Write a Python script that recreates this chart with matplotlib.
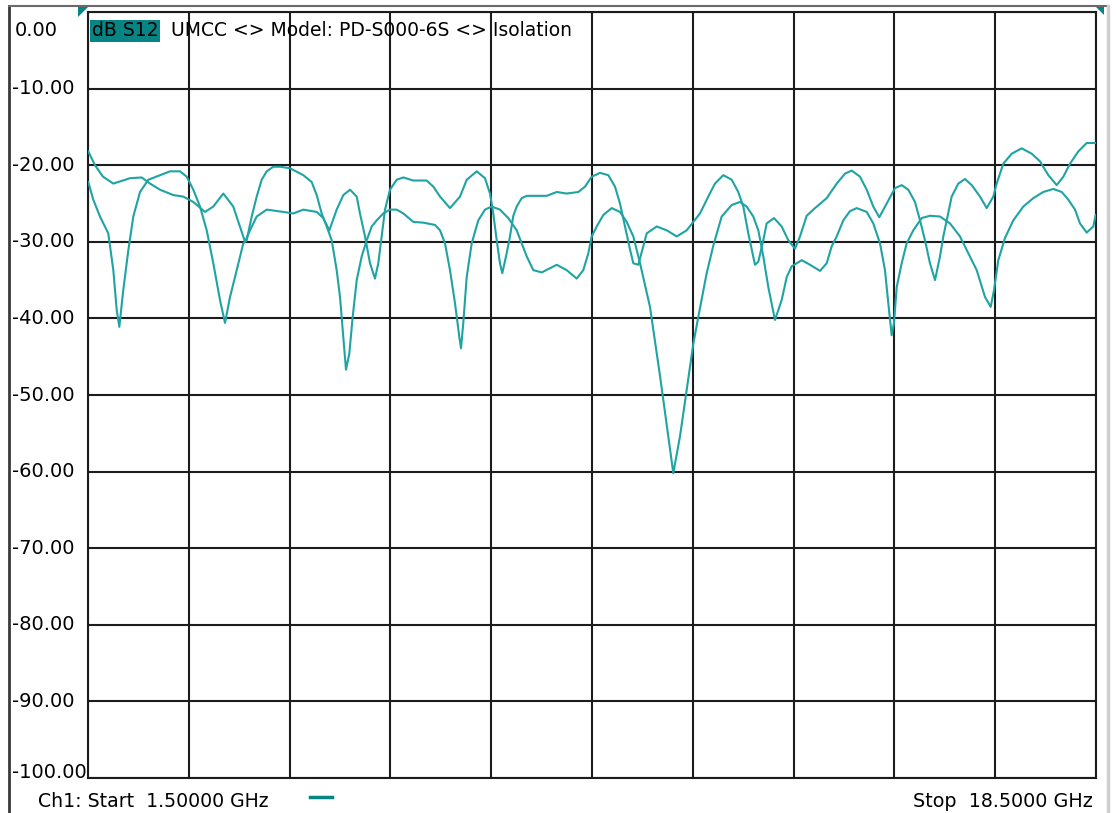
import matplotlib
matplotlib.use("Agg")
import matplotlib.pyplot as plt
from matplotlib.lines import Line2D
from matplotlib.patches import Polygon
from matplotlib.transforms import blended_transform_factory
import numpy as np

# ---------------- data (GHz, dB) ----------------
freq_a = [1.505, 1.618, 1.753, 1.927, 2.208, 2.406, 2.546, 2.714, 2.939, 3.107,
          3.276, 3.473, 3.613, 3.782, 3.950, 4.148, 4.232, 4.345, 4.514, 4.794,
          4.962, 5.131, 5.357, 5.468, 5.570, 5.694, 5.806, 5.919, 6.032, 6.087,
          6.172, 6.256, 6.340, 6.396, 6.453, 6.509, 6.593, 6.706, 6.818, 6.986,
          7.212, 7.324, 7.437, 7.605, 7.774, 7.887, 8.056, 8.195, 8.280, 8.335,
          8.393, 8.448, 8.487, 8.561, 8.617, 8.673, 8.730, 8.814, 8.899, 9.236,
          9.405, 9.573, 9.769, 9.882, 9.995, 10.135, 10.275, 10.388, 10.472, 10.557,
          10.641, 10.697, 10.781, 10.923, 11.091, 11.260, 11.429, 11.597, 11.709, 11.821,
          11.961, 12.074, 12.214, 12.356, 12.467, 12.552, 12.636, 12.720, 12.749, 12.805,
          12.889, 12.946, 13.070, 13.199, 13.311, 13.424, 13.508, 13.621, 13.761, 13.958,
          14.127, 14.267, 14.380, 14.520, 14.633, 14.744, 14.845, 14.970, 15.110, 15.223,
          15.334, 15.447, 15.532, 15.616, 15.700, 15.785, 15.869, 15.925, 15.982, 16.066,
          16.178, 16.291, 16.404, 16.544, 16.657, 16.768, 16.825, 16.937, 17.078, 17.247,
          17.416, 17.556, 17.696, 17.837, 17.949, 18.062, 18.202, 18.343, 18.483]
db_a = [-18.2, -20.0, -21.5, -22.4, -21.7, -21.6, -22.4, -23.2, -23.9, -24.1,
        -24.8, -26.1, -25.4, -23.7, -25.4, -30.0, -28.5, -26.7, -25.8, -26.1,
        -26.3, -25.8, -26.1, -26.9, -28.5, -25.8, -23.9, -23.2, -24.1, -26.3,
        -29.3, -32.8, -34.8, -32.8, -29.3, -25.8, -23.2, -21.9, -21.6, -22.0,
        -22.0, -22.8, -24.1, -25.6, -24.1, -21.9, -20.8, -21.7, -23.7, -26.3,
        -29.8, -32.8, -34.1, -31.5, -29.3, -26.6, -25.4, -24.3, -24.0, -24.0,
        -23.5, -23.7, -23.5, -22.8, -21.5, -21.0, -21.3, -22.8, -25.0, -28.0,
        -31.0, -32.8, -33.0, -28.9, -28.0, -28.5, -29.3, -28.5, -27.4, -26.3,
        -24.1, -22.4, -21.3, -21.9, -23.5, -25.4, -28.9, -31.9, -33.0, -32.6,
        -29.8, -27.6, -26.9, -28.0, -29.8, -30.9, -29.3, -26.6, -25.6, -24.3,
        -22.4, -21.1, -20.7, -21.5, -23.2, -25.4, -26.8, -25.0, -23.0, -22.6,
        -23.2, -24.8, -27.2, -29.8, -32.8, -35.0, -31.9, -29.3, -27.2, -24.1,
        -22.4, -21.8, -22.6, -24.1, -25.6, -24.1, -22.4, -19.8, -18.5, -17.8,
        -18.5, -19.5, -21.3, -22.6, -21.5, -19.8, -18.2, -17.1, -17.1]

freq_b = [1.505, 1.589, 1.702, 1.842, 1.927, 1.984, 2.028, 2.095, 2.180, 2.264,
          2.377, 2.517, 2.714, 2.883, 3.052, 3.165, 3.276, 3.389, 3.502, 3.613,
          3.726, 3.811, 3.895, 4.008, 4.119, 4.176, 4.261, 4.345, 4.429, 4.514,
          4.625, 4.738, 4.907, 5.131, 5.273, 5.357, 5.441, 5.526, 5.610, 5.694,
          5.750, 5.806, 5.851, 5.907, 5.964, 6.032, 6.116, 6.200, 6.285, 6.369,
          6.480, 6.593, 6.706, 6.818, 6.986, 7.155, 7.352, 7.437, 7.521, 7.605,
          7.689, 7.762, 7.791, 7.829, 7.887, 7.971, 8.082, 8.195, 8.308, 8.448,
          8.588, 8.730, 8.899, 9.010, 9.152, 9.405, 9.573, 9.742, 9.853, 9.938,
          9.995, 10.079, 10.191, 10.332, 10.472, 10.585, 10.697, 10.810, 10.978, 11.147,
          11.287, 11.371, 11.484, 11.597, 11.709, 11.793, 11.934, 12.046, 12.187, 12.356,
          12.496, 12.609, 12.720, 12.805, 12.889, 12.973, 13.086, 13.199, 13.284, 13.368,
          13.537, 13.677, 13.845, 13.958, 14.042, 14.127, 14.238, 14.351, 14.464, 14.633,
          14.744, 14.857, 14.941, 14.997, 15.054, 15.093, 15.139, 15.223, 15.307, 15.419,
          15.560, 15.700, 15.869, 16.038, 16.206, 16.346, 16.488, 16.628, 16.724, 16.780,
          16.852, 16.965, 17.105, 17.274, 17.443, 17.611, 17.780, 17.922, 18.033, 18.146,
          18.230, 18.343, 18.454, 18.495]
db_b = [-22.2, -24.5, -26.7, -28.9, -33.7, -38.9, -41.1, -36.3, -31.1, -26.7,
        -23.5, -21.9, -21.3, -20.8, -20.8, -21.5, -23.2, -25.4, -28.5, -32.8,
        -37.6, -40.6, -37.2, -33.7, -30.2, -29.8, -26.7, -24.1, -21.9, -20.8,
        -20.2, -20.2, -20.4, -21.3, -22.2, -23.9, -26.3, -28.0, -29.8, -33.7,
        -37.2, -42.4, -46.7, -44.6, -39.8, -35.0, -31.9, -29.8, -28.0, -27.2,
        -26.3, -25.8, -25.8, -26.3, -27.4, -27.5, -27.8, -28.5, -30.2, -33.7,
        -38.0, -42.4, -43.9, -40.6, -34.6, -30.2, -27.2, -25.8, -25.4, -25.8,
        -26.9, -28.5, -31.9, -33.7, -34.0, -33.0, -33.7, -34.8, -33.7, -31.5,
        -29.3, -28.0, -26.5, -25.6, -26.1, -27.4, -29.3, -32.8, -38.5, -47.5,
        -55.4, -60.2, -55.4, -49.3, -43.3, -39.8, -34.1, -30.5, -26.7, -25.2,
        -24.8, -25.4, -26.7, -28.5, -31.9, -35.9, -40.2, -37.6, -34.6, -33.2,
        -32.4, -33.0, -33.8, -32.8, -30.6, -29.3, -27.2, -26.0, -25.6, -26.1,
        -27.6, -30.2, -33.7, -38.0, -42.2, -40.6, -35.9, -32.8, -30.2, -28.5,
        -26.9, -26.6, -26.7, -27.6, -29.3, -31.5, -33.7, -37.2, -38.5, -36.3,
        -32.4, -29.5, -27.2, -25.4, -24.3, -23.5, -23.1, -23.5, -24.5, -25.8,
        -27.6, -28.8, -28.0, -26.5]

y_ticks = [0, -10, -20, -30, -40, -50, -60, -70, -80, -90, -100]
start_ghz = 1.5
stop_ghz = 18.5
header_tag = "dB S12"
header_title = "UMCC <> Model: PD-S000-6S <> Isolation"
start_label = "Ch1: Start  1.50000 GHz"
stop_label = "Stop  18.5000 GHz"

# ---------------- style ----------------
W, H = 1117, 813
trace_color = "#1fa3a3"
tag_color = "#078585"
grid_color = "#1c1c1c"
FONT = "DejaVu Sans"

fig = plt.figure(figsize=(W / 100, H / 100), dpi=100)
fig.patch.set_facecolor("white")

L, R, T, B = 88, 1096, 12, 778
ax = fig.add_axes([L / W, 1 - B / H, (R - L) / W, (B - T) / H])
ax.set_xlim(start_ghz, stop_ghz)
ax.set_ylim(-100, 0)
ax.set_xticks(np.linspace(start_ghz, stop_ghz, 11))
ax.set_yticks(y_ticks)
ax.tick_params(length=0, labelbottom=False, labelleft=False)
ax.grid(True, color=grid_color, lw=1.5)
for s in ax.spines.values():
    s.set_color(grid_color)
    s.set_linewidth(1.5)

ax.plot(freq_a, db_a, color=trace_color, lw=1.5, zorder=3)
ax.plot(freq_b, db_b, color=trace_color, lw=1.5, zorder=3)

# y labels at left margin
tr = blended_transform_factory(ax.transAxes, ax.transData)
xlab = (12 - L) / (R - L)
for v in y_ticks:
    txt = f"{v:.2f}"
    if v == 0:
        yy, xx = v - 2.4, xlab + 0.003
    elif v == -100:
        yy, xx = v + 0.7, xlab
    else:
        yy, xx = v, xlab
    ax.text(xx, yy, txt, transform=tr, ha="left", va="center",
            fontsize=14, family=FONT, color="black", clip_on=False)

# header
fig.text(92 / W, 1 - 31 / H, header_tag, ha="left", va="center", fontsize=13.5,
         family=FONT, color="black",
         bbox=dict(boxstyle="square,pad=0.1", fc=tag_color, ec="none"))
fig.text(171 / W, 1 - 31 / H, header_title, ha="left", va="center", fontsize=13.5,
         family=FONT, color="black")

# footer
fig.text(38 / W, 1 - 801 / H, start_label, ha="left", va="center", fontsize=13.6,
         family=FONT, color="black")
fig.add_artist(Line2D([310 / W, 332 / W], [1 - 797 / H, 1 - 797 / H],
                      color=tag_color, lw=2.5, transform=fig.transFigure))
fig.text(1093 / W, 1 - 801 / H, stop_label, ha="right", va="center", fontsize=13.8,
         family=FONT, color="black")

# reference-level markers
fig.add_artist(Polygon([[78 / W, 1 - 7 / H], [88 / W, 1 - 7 / H], [78 / W, 1 - 17 / H]],
                       closed=True, fc=tag_color, ec="none", transform=fig.transFigure))
fig.add_artist(Polygon([[1096 / W, 1 - 7 / H], [1104 / W, 1 - 7 / H], [1104 / W, 1 - 15 / H]],
                       closed=True, fc=tag_color, ec="none", transform=fig.transFigure))

# outer window frame
fig.add_artist(Line2D([9 / W, 9 / W], [0, 1 - 6 / H], color="#3a3a3a", lw=2,
                      transform=fig.transFigure))
fig.add_artist(Line2D([9 / W, 1108 / W], [1 - 6 / H, 1 - 6 / H], color="#6a6a6a", lw=1.5,
                      transform=fig.transFigure))
fig.add_artist(Line2D([1108 / W, 1108 / W], [0, 1 - 6 / H], color="#cfcfcf", lw=2.5,
                      transform=fig.transFigure))

fig.savefig("out.png", dpi=100)
